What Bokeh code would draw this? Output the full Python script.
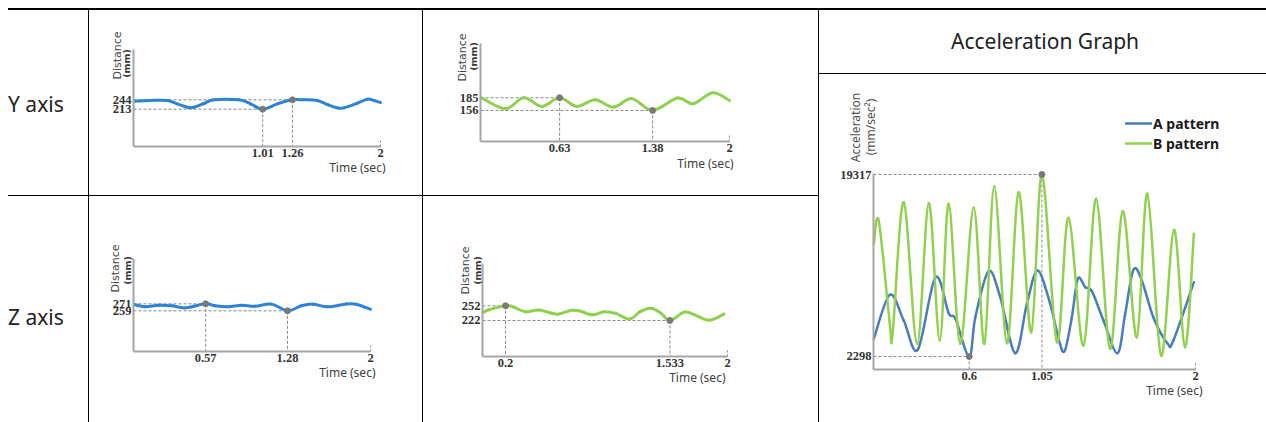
import math
from bokeh.plotting import figure
from bokeh.models import (Range1d, FixedTicker, NumeralTickFormatter, Label, Div,
                          ColumnDataSource, Legend, LegendItem, Spacer)
from bokeh.layouts import row, column
from bokeh.embed import file_html
from bokeh.resources import INLINE

# ---------------- data ----------------
# Y axis, A pattern (blue) distance, mm
ya_t = [-0.065, 0.067, 0.208, 0.292, 0.376, 0.432, 0.516, 0.6, 0.81, 0.908, 1.01, 1.133,
        1.26, 1.357, 1.469, 1.553, 1.638, 1.693, 1.806, 1.89, 1.946, 2.0]
ya_v = [239.6, 241.8, 241.8, 230.7, 219.6, 219.6, 231.8, 244, 244, 230.7, 213, 230.7,
        244, 244, 241.8, 228.5, 217.4, 217.4, 233, 246.2, 241.8, 235]
ya_mark_t = [1.01, 1.26]
ya_mark_v = [213, 244]

# Y axis, B pattern (green)
yb_t = [0.0, 0.193, 0.34, 0.488, 0.63, 0.769, 0.917, 1.064, 1.212, 1.38, 1.58, 1.707, 1.863, 2.0]
yb_v = [185, 159.8, 185, 165.2, 185, 165.2, 180.4, 163.6, 183, 156, 184.2, 171.3, 196.4, 178.9]
yb_mark_t = [0.63, 1.38]
yb_mark_v = [185, 156]

# Z axis, A pattern (blue)
za_t = [-0.05, 0.047, 0.162, 0.278, 0.393, 0.57, 0.651, 0.766, 0.882, 0.997, 1.141, 1.28,
        1.4, 1.5, 1.629, 1.788, 1.874, 2.0]
za_v = [269.8, 265.9, 268.6, 267.6, 264.1, 271, 267.6, 265.9, 268.6, 266.9, 270.5, 259,
        267.6, 270.5, 265.9, 270.8, 270.3, 261.7]
za_mark_t = [0.57, 1.28]
za_mark_v = [271, 259]

# Z axis, B pattern (green)
zb_t = [0.015, 0.064, 0.2, 0.254, 0.362, 0.47, 0.619, 0.727, 0.795, 0.903, 0.998, 1.093,
        1.206, 1.295, 1.377, 1.458, 1.533, 1.647, 1.73, 1.85, 1.972]
zb_v = [238, 243.8, 252, 250.6, 239.8, 243.5, 234.9, 242.5, 241.8, 233.5, 239.8, 236.5,
        225, 240.5, 247, 237.5, 222, 239, 234, 222.5, 234.9]
zb_mark_t = [0.2, 1.533]
zb_mark_v = [252, 222]

# Acceleration, mm/sec^2
acc_a_t = [0.01, 0.109, 0.195, 0.282, 0.391, 0.473, 0.515, 0.6, 0.638, 0.72, 0.792, 0.885,
           0.957, 1.023, 1.101, 1.153, 1.19, 1.235, 1.272, 1.318, 1.359, 1.431, 1.517,
           1.565, 1.616, 1.668, 1.739, 1.826, 1.863, 1.99]
acc_a_v = [3953, 8068, 5664, 2925, 9713, 6347, 5823, 2298, 5973, 10274, 7843, 2607,
           7226, 10340, 7226, 3953, 2794, 5973, 9564, 8778, 8404, 5664, 2607,
           6291, 10405, 9405, 5973, 3542, 3794, 9245]
acc_b_t = [0.01, 0.041, 0.109, 0.127, 0.195, 0.278, 0.35, 0.418, 0.473, 0.545, 0.628,
           0.694, 0.755, 0.834, 0.906, 0.984, 1.05, 1.143, 1.214, 1.307, 1.385, 1.472,
           1.55, 1.637, 1.702, 1.787, 1.867, 1.935, 1.99]
acc_b_v = [12837, 14950, 5356, 4570, 16726, 3486, 16633, 3794, 16576, 3486, 16203,
           3486, 18195, 3542, 17661, 4570, 19317, 3635, 15267, 3327, 17044, 3018,
           15885, 4103, 17512, 2392, 14145, 3168, 13771]
acc_mark_t = [0.6, 1.05]
acc_mark_v = [2298, 19317]

series_names = ["A pattern", "B pattern"]
row_labels = ["Y axis", "Z axis"]
header_text = "Acceleration Graph"

# ---------------- styles ----------------
BLUE = "#2f83d4"
GREEN = "#8fd14f"
ACC_BLUE = "#4a7dbb"
ACC_GREEN = "#92d050"
AXIS = "#a6a6a6"
REF = "#8a8a8a"


def spline_source(xs, ys):
    X = [xs[0]] + list(xs) + [xs[-1]]
    Y = [ys[0]] + list(ys) + [ys[-1]]
    d = {k: [] for k in ("x0", "y0", "x1", "y1", "cx0", "cy0", "cx1", "cy1")}
    for i in range(len(xs) - 1):
        p0x, p1x, p2x, p3x = X[i], X[i + 1], X[i + 2], X[i + 3]
        p0y, p1y, p2y, p3y = Y[i], Y[i + 1], Y[i + 2], Y[i + 3]
        d["x0"].append(p1x); d["y0"].append(p1y)
        d["x1"].append(p2x); d["y1"].append(p2y)
        d["cx0"].append(p1x + (p2x - p0x) / 6.0); d["cy0"].append(p1y + (p2y - p0y) / 6.0)
        d["cx1"].append(p2x - (p3x - p1x) / 6.0); d["cy1"].append(p2y - (p3y - p1y) / 6.0)
    return ColumnDataSource(d)


def make_chart(width, height, pads, xr, yr, curves, marks, xticks, yticks,
               ylabels, time_off, ybound=None):
    # pads: pixel distance of the axis box from the cell edges (left, right, top, bottom)
    left, right, top, bottom = pads
    fw = width - left - right
    fh = height - top - bottom
    sx = (xr[1] - xr[0]) / fw
    sy = (yr[1] - yr[0]) / fh
    full_x = (xr[0] - left * sx, xr[1] + right * sx)
    full_y = (yr[0] - bottom * sy, yr[1] + top * sy)
    p = figure(width=width, height=height, x_range=Range1d(*full_x), y_range=Range1d(*full_y),
               toolbar_location=None, output_backend="svg", min_border=0,
               min_border_left=0, min_border_right=0, min_border_top=0, min_border_bottom=0)
    p.grid.visible = False
    p.outline_line_color = None
    p.background_fill_color = "white"
    p.border_fill_color = "white"
    xa, ya = p.xaxis[0], p.yaxis[0]
    xa.fixed_location = yr[0]
    ya.fixed_location = xr[0]
    xa.bounds = (xr[0], xr[1])
    ya.bounds = (yr[0], ybound if ybound is not None else yr[1])
    for ax, ticks in ((xa, xticks), (ya, yticks)):
        ax.ticker = FixedTicker(ticks=ticks, minor_ticks=[])
        ax.formatter = NumeralTickFormatter(format="0.[000]")
        ax.major_tick_line_color = None
        ax.minor_tick_line_color = None
        ax.major_tick_out = 0
        ax.major_tick_in = 0
        ax.axis_line_color = AXIS
        ax.axis_line_width = 2
        ax.major_label_text_font = "Liberation Serif"
        ax.major_label_text_font_style = "bold"
        ax.major_label_text_font_size = "12.5px"
        ax.major_label_text_color = "#333333"
        ax.major_label_standoff = 2

    # reference lines to the marked points
    mt, mv = marks
    ref = ColumnDataSource(dict(
        hx0=[xr[0]] * len(mt), hx1=mt, hy=mv,
        vx=mt, vy0=mv, vy1=[yr[0]] * len(mt)))
    p.segment(x0="hx0", y0="hy", x1="hx1", y1="hy", source=ref,
              line_color=REF, line_width=1, line_dash="3 2")
    p.segment(x0="vx", y0="vy0", x1="vx", y1="vy1", source=ref,
              line_color=REF, line_width=1, line_dash="3 2")
    # small dotted end tick at t = 2
    p.segment(x0=[xticks[-1]], y0=[yr[0]], x1=[xticks[-1]], y1=[yr[0] + 7 * sy],
              line_color=REF, line_width=1, line_dash="2 2")

    renderers = []
    for (t, v, color, lw) in curves:
        r = p.bezier(x0="x0", y0="y0", x1="x1", y1="y1", cx0="cx0", cy0="cy0",
                     cx1="cx1", cy1="cy1", source=spline_source(t, v),
                     line_color=color, line_width=lw, line_cap="round")
        renderers.append(r)
    p.scatter(x=mt, y=mv, size=6, color="#7a7a7a")

    for (txt, dx, dy, size, style, color, font) in ylabels:
        p.add_layout(Label(x=xr[0], y=yr[1], x_offset=dx, y_offset=-dy, text=txt,
                           angle=math.pi / 2, text_align="center", text_baseline="middle",
                           text_font=font, text_font_size=size, text_font_style=style,
                           text_color=color))
    p.add_layout(Label(x=xr[1], y=yr[0], x_offset=time_off[0], y_offset=-time_off[1],
                       text="Time (sec)", text_align="right", text_baseline="middle",
                       text_font="Noto Sans", text_font_size="12px", text_color="#404040"))
    return p, renderers


def dist_labels(a, b):
    return [("Distance", a[0], a[1], "11px", "normal", "#444444", "DejaVu Sans"),
            ("(mm)", b[0], b[1], "9.5px", "bold", "#333333", "DejaVu Sans")]


fig1, _ = make_chart(333, 185, (44, 42, 39, 49), (-0.076, 2.0), (90, 410),
                     [(ya_t, ya_v, BLUE, 3)], (ya_mark_t, ya_mark_v),
                     [1.01, 1.26, 2], [213, 244],
                     dist_labels((-16, 6), (-7, 14)), (5, 20.5))
fig2, _ = make_chart(395, 185, (57, 89, 33, 54), (-0.008, 2.0), (85, 309),
                     [(yb_t, yb_v, GREEN, 3)], (yb_mark_t, yb_mark_v),
                     [0.63, 1.38, 2], [156, 185],
                     dist_labels((-18, 14), (-7, 13)), (4, 21.5))
fig3, _ = make_chart(333, 226, (44, 52, 62, 71), (-0.056, 2.0), (189, 349),
                     [(za_t, za_v, BLUE, 3)], (za_mark_t, za_mark_v),
                     [0.57, 1.28, 2], [259, 271],
                     dist_labels((-18, 10), (-6, 12)), (5, 20.7))
fig4, _ = make_chart(395, 226, (59, 91, 67, 66), (0.013, 2.0), (148.5, 338.3),
                     [(zb_t, zb_v, GREEN, 3)], (zb_mark_t, zb_mark_v),
                     [0.2, 1.533, 2], [222, 252],
                     dist_labels((-17, 7), (-5, 7)), (-2, 20.7))
acc_labels = [("Acceleration", -18, 27, "12px", "normal", "#505050", "Noto Sans"),
              ("(mm/sec²)", -3, 26.5, "12px", "normal", "#505050", "Noto Sans")]
fig5, rs = make_chart(447, 348, (54, 71, 26, 53), (0.008, 2.0), (1082, 26237),
                      [(acc_a_t, acc_a_v, ACC_BLUE, 2.5), (acc_b_t, acc_b_v, ACC_GREEN, 2.5)],
                      (acc_mark_t, acc_mark_v), [0.6, 1.05, 2], [2298, 19317],
                      acc_labels, (7, 20.7), ybound=19420)
legend = Legend(items=[LegendItem(label=series_names[0], renderers=[rs[0]]),
                       LegendItem(label=series_names[1], renderers=[rs[1]])],
                location=(306, 268.7), padding=0, margin=0, spacing=0,
                glyph_width=27, glyph_height=20, label_height=20, label_standoff=1,
                border_line_color=None, background_fill_alpha=0,
                label_text_font="Noto Sans", label_text_font_style="bold",
                label_text_font_size="14px", label_text_color="#1a1a1a")
fig5.add_layout(legend)


def line_div(w, h):
    return Div(text="", width=w, height=h, margin=0,
               styles={"background-color": "#000000"})


def text_div(txt, w, h, pad_top, pad_left):
    html = ('<div style="font-family:\'Noto Sans\';font-size:21px;line-height:24px;'
            'color:#222;white-space:nowrap;padding-top:%dpx;padding-left:%dpx">%s</div>'
            % (pad_top, pad_left, txt))
    return Div(text=html, width=w, height=h, margin=0)


colA = column(text_div(row_labels[0], 80, 185, 82, 0), line_div(80, 1),
              text_div(row_labels[1], 80, 226, 109, 0), spacing=0)
colB = column(fig1, line_div(333, 1), fig3, spacing=0)
colC = column(fig2, line_div(395, 1), fig4, spacing=0)
colD = column(text_div(header_text, 447, 63, 19, 132), line_div(447, 1), fig5, spacing=0)
main = row(colA, line_div(1, 412), colB, line_div(1, 412), colC, line_div(1, 412), colD,
           spacing=0)
content = column(line_div(1258, 2), main, spacing=0)
root = column(Spacer(width=1266, height=8, margin=0),
              row(Spacer(width=8, height=414, margin=0), content, spacing=0),
              spacing=0)

open("out.html", "w").write(file_html(root, INLINE, title="chart"))
